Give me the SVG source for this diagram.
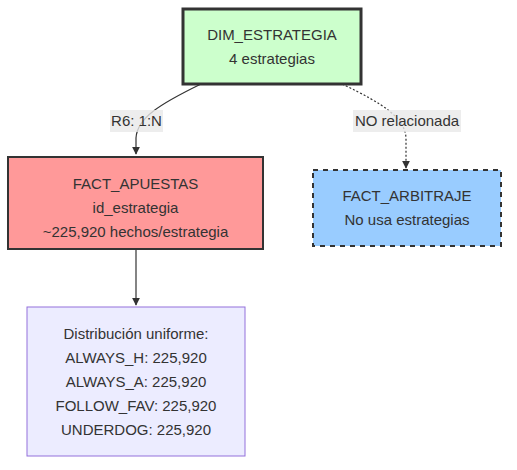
<svg xmlns="http://www.w3.org/2000/svg" width="517" height="470" viewBox="0 0 517 470">
<style>
text{font-family:"Liberation Sans",Arial,sans-serif;font-size:15px;fill:#333;text-anchor:middle}
.e{fill:none;stroke:#333;stroke-width:1.2}
.lbl{fill:#e8e8e8;opacity:0.8}
</style>
<defs>
<marker id="ah" viewBox="0 0 10 10" refX="9" refY="5" markerWidth="8" markerHeight="8" orient="auto" markerUnits="userSpaceOnUse">
<path d="M0,0 L10,5 L0,10 z" fill="#333"/>
</marker>
</defs>
<rect width="517" height="470" fill="#fff"/>
<g id="connectors">
<path class="e" d="M201,84 C160,104 137,118 136,138 L136,154" marker-end="url(#ah)"/>
<path class="e" d="M342,84 C384,104 405,118 406,138 L406,168" stroke-dasharray="2,2" marker-end="url(#ah)"/>
<path class="e" d="M136,249 L136,305" marker-end="url(#ah)"/>
<rect class="lbl" x="110" y="110" width="53" height="22"/>
<text x="136.5" y="126">R6: 1:N</text>
<rect class="lbl" x="353" y="110" width="108" height="22"/>
<text x="407" y="126">NO relacionada</text>
</g>
<g id="dim_estrategia">
<rect x="183" y="9" width="178" height="75" fill="#ccffcc" stroke="#333" stroke-width="3"/>
<text x="272" y="40">DIM_ESTRATEGIA</text>
<text x="272" y="64">4 estrategias</text>
</g>
<g id="fact_apuestas">
<rect x="8" y="157" width="255" height="92" fill="#ff9999" stroke="#333" stroke-width="2"/>
<text x="135.5" y="189">FACT_APUESTAS</text>
<text x="135.5" y="213">id_estrategia</text>
<text x="135.5" y="237">~225,920 hechos/estrategia</text>
</g>
<g id="fact_arbitraje">
<rect x="313" y="170" width="188" height="76" fill="#99ccff" stroke="#333" stroke-width="2" stroke-dasharray="5,5"/>
<text x="407" y="201">FACT_ARBITRAJE</text>
<text x="407" y="225">No usa estrategias</text>
</g>
<g id="distribucion">
<rect x="27" y="307" width="218" height="149" fill="#ececff" stroke="#9370db" stroke-width="1"/>
<text x="136" y="339">Distribución uniforme:</text>
<text x="136" y="363">ALWAYS_H: 225,920</text>
<text x="136" y="387">ALWAYS_A: 225,920</text>
<text x="136" y="411">FOLLOW_FAV: 225,920</text>
<text x="136" y="435">UNDERDOG: 225,920</text>
</g>
</svg>
